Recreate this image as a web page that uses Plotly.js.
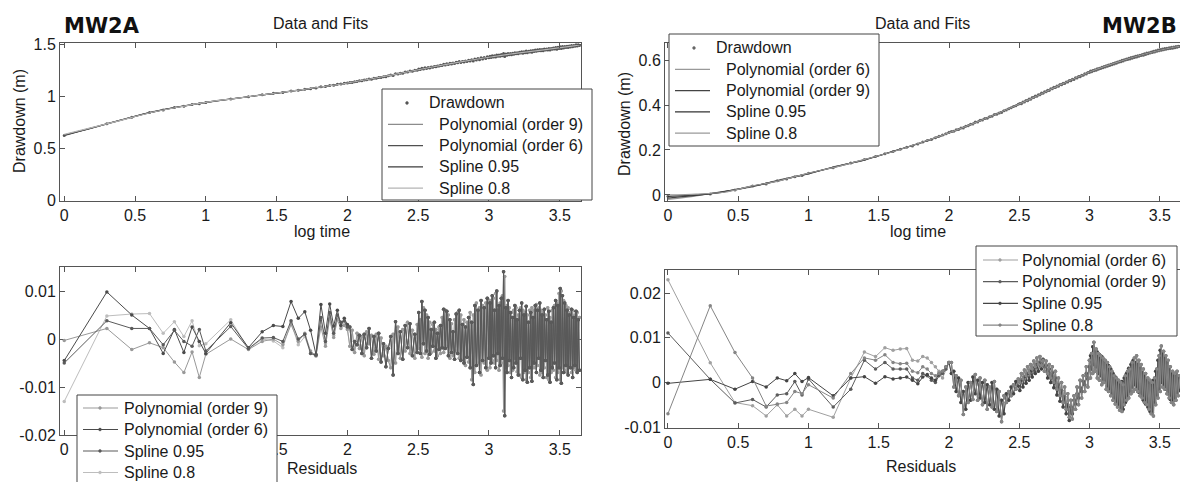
<!DOCTYPE html>
<html>
<head>
<meta charset="utf-8">
<script src="https://cdn.plot.ly/plotly-3.0.1.min.js"></script>
<style>
html,body{margin:0;padding:0;background:#fff;overflow:hidden;}
#wrap{width:1180px;height:482px;overflow:hidden;position:relative;}
#chart{width:1200px;height:500px;}
</style>
</head>
<body>
<div id="wrap"><div id="chart"></div></div>
<script>
// ---------- data ----------
const xEarly = [0, 0.301, 0.477, 0.602, 0.699, 0.778, 0.845, 0.903, 0.954, 1.0, 1.176, 1.301, 1.398, 1.477, 1.544, 1.602, 1.653, 1.699, 1.740, 1.778, 1.813, 1.845, 1.875, 1.903, 1.929, 1.954, 1.978, 2.0];
const xLate = [2.017, 2.034, 2.051, 2.068, 2.085, 2.102, 2.119, 2.136, 2.153, 2.170, 2.187, 2.204, 2.221, 2.238, 2.255, 2.272, 2.289, 2.306, 2.323, 2.340, 2.357, 2.374, 2.391, 2.408, 2.425, 2.442, 2.459, 2.476, 2.493,
 2.504, 2.515, 2.526, 2.537, 2.548, 2.559, 2.570, 2.581, 2.592, 2.603, 2.614, 2.625, 2.636, 2.647, 2.658, 2.669, 2.680, 2.691, 2.702, 2.713, 2.724, 2.735, 2.746, 2.757, 2.768, 2.779, 2.790, 2.801, 2.812, 2.823, 2.834, 2.845, 2.856, 2.867, 2.878, 2.889, 2.900, 2.911, 2.922, 2.933, 2.944, 2.955, 2.966, 2.977, 2.988, 2.999,
 3.007, 3.015, 3.023, 3.031, 3.039, 3.047, 3.055, 3.063, 3.071, 3.079, 3.087, 3.095, 3.103, 3.111, 3.119, 3.127, 3.135, 3.143, 3.151, 3.159, 3.167, 3.175, 3.183, 3.191, 3.199, 3.207, 3.215, 3.223, 3.231, 3.239, 3.247, 3.255, 3.263, 3.271, 3.279, 3.287, 3.295, 3.303, 3.311, 3.319, 3.327, 3.335, 3.343, 3.351, 3.359, 3.367, 3.375, 3.383, 3.391, 3.399, 3.407, 3.415, 3.423, 3.431, 3.439, 3.447, 3.455, 3.463, 3.471, 3.479, 3.487, 3.495, 3.503, 3.511, 3.519, 3.527, 3.535, 3.543, 3.551, 3.559, 3.567, 3.575, 3.583, 3.591, 3.599, 3.607, 3.615, 3.623, 3.631, 3.639];

// MW2A drawdown (m)
const drawA_early = [0.624, 0.737, 0.801, 0.846, 0.870, 0.894, 0.906, 0.923, 0.931, 0.942, 0.977, 0.997, 1.016, 1.031, 1.040, 1.053, 1.061, 1.070, 1.076, 1.082, 1.093, 1.096, 1.106, 1.109, 1.117, 1.121, 1.127, 1.131];
const drawA_late = [1.136, 1.136, 1.142, 1.145, 1.151, 1.151, 1.160, 1.161, 1.169, 1.167, 1.176, 1.177, 1.184, 1.182, 1.191, 1.190, 1.199, 1.206, 1.202, 1.218, 1.216, 1.225, 1.224, 1.236, 1.235, 1.245, 1.243, 1.252, 1.253,
 1.264, 1.259, 1.273, 1.266, 1.276, 1.270, 1.280, 1.275, 1.283, 1.282, 1.290, 1.286, 1.293, 1.293, 1.301, 1.299, 1.310, 1.304, 1.315, 1.308, 1.319, 1.314, 1.322, 1.318, 1.330, 1.324, 1.336, 1.328, 1.337, 1.332, 1.342, 1.338, 1.349, 1.341, 1.353, 1.342, 1.361, 1.351, 1.365, 1.354, 1.372, 1.362, 1.375, 1.365, 1.382, 1.372,
 1.387, 1.376, 1.392, 1.381, 1.392, 1.381, 1.399, 1.388, 1.399, 1.388, 1.404, 1.393, 1.413, 1.384, 1.409, 1.396, 1.413, 1.402, 1.414, 1.402, 1.416, 1.407, 1.422, 1.411, 1.422, 1.412, 1.427, 1.419, 1.432, 1.417, 1.432, 1.422, 1.437, 1.422, 1.436, 1.428, 1.441, 1.427, 1.442, 1.434, 1.447, 1.435, 1.449, 1.440, 1.453, 1.440, 1.453, 1.441, 1.457, 1.447, 1.457, 1.447, 1.462, 1.448, 1.461, 1.454, 1.467, 1.457, 1.471, 1.456, 1.473, 1.461, 1.479, 1.461, 1.481, 1.466, 1.482, 1.471, 1.484, 1.472, 1.486, 1.477, 1.491, 1.478, 1.492, 1.484, 1.497, 1.486, 1.498, 1.490];

// MW2B drawdown (m)
const drawB_early = [-0.006, 0.004, 0.022, 0.040, 0.049, 0.063, 0.071, 0.081, 0.087, 0.097, 0.121, 0.142, 0.158, 0.171, 0.183, 0.193, 0.203, 0.212, 0.218, 0.227, 0.235, 0.242, 0.247, 0.254, 0.261, 0.267, 0.272, 0.279];
const drawB_late = [0.282, 0.283, 0.290, 0.291, 0.298, 0.298, 0.306, 0.308, 0.315, 0.316, 0.324, 0.325, 0.332, 0.333, 0.340, 0.341, 0.348, 0.350, 0.358, 0.359, 0.365, 0.367, 0.374, 0.378, 0.384, 0.388, 0.394, 0.397, 0.403,
 0.407, 0.406, 0.414, 0.413, 0.420, 0.419, 0.427, 0.426, 0.433, 0.433, 0.440, 0.439, 0.446, 0.446, 0.453, 0.452, 0.459, 0.459, 0.466, 0.465, 0.472, 0.472, 0.479, 0.478, 0.485, 0.484, 0.491, 0.490, 0.497, 0.496, 0.503, 0.502, 0.509, 0.508, 0.515, 0.514, 0.521, 0.520, 0.527, 0.526, 0.533, 0.532, 0.539, 0.538, 0.545, 0.545,
 0.551, 0.548, 0.554, 0.553, 0.557, 0.555, 0.561, 0.559, 0.564, 0.562, 0.568, 0.566, 0.571, 0.569, 0.575, 0.572, 0.578, 0.576, 0.582, 0.579, 0.585, 0.583, 0.588, 0.586, 0.592, 0.590, 0.595, 0.593, 0.599, 0.596, 0.602, 0.600, 0.605, 0.603, 0.608, 0.605, 0.611, 0.608, 0.614, 0.611, 0.617, 0.614, 0.619, 0.617, 0.622, 0.620, 0.625, 0.622, 0.628, 0.625, 0.631, 0.628, 0.633, 0.631, 0.636, 0.634, 0.639, 0.636, 0.642, 0.639, 0.645, 0.642, 0.647, 0.644, 0.649, 0.646, 0.651, 0.648, 0.653, 0.650, 0.655, 0.652, 0.657, 0.653, 0.658, 0.655, 0.660, 0.657, 0.662, 0.660];

// fitted curves
const xFit = [0, 0.2, 0.4, 0.6, 0.8, 1.0, 1.2, 1.4, 1.6, 1.8, 2.0, 2.2, 2.4, 2.6, 2.8, 3.0, 3.2, 3.4, 3.6, 3.64];
const fitA_poly9 = [0.624, 0.701, 0.772, 0.845, 0.897, 0.944, 0.980, 1.016, 1.051, 1.089, 1.130, 1.178, 1.231, 1.284, 1.334, 1.378, 1.418, 1.452, 1.487, 1.496];
const fitA_poly6 = [0.629, 0.698, 0.774, 0.843, 0.899, 0.942, 0.981, 1.015, 1.052, 1.088, 1.131, 1.177, 1.232, 1.283, 1.335, 1.377, 1.419, 1.451, 1.488, 1.497];
const fitA_spl95 = [0.629, 0.700, 0.773, 0.844, 0.898, 0.943, 0.980, 1.016, 1.051, 1.089, 1.130, 1.178, 1.231, 1.284, 1.334, 1.378, 1.418, 1.452, 1.488, 1.496];
const fitA_spl80 = [0.636, 0.703, 0.771, 0.842, 0.897, 0.944, 0.980, 1.016, 1.052, 1.089, 1.130, 1.178, 1.231, 1.284, 1.334, 1.378, 1.418, 1.452, 1.488, 1.496];
const fitB_poly6 = [-0.020, -0.004, 0.016, 0.036, 0.068, 0.094, 0.128, 0.155, 0.194, 0.231, 0.277, 0.324, 0.378, 0.432, 0.493, 0.546, 0.592, 0.627, 0.658, 0.660];
const fitB_poly9 = [-0.014, -0.002, 0.015, 0.038, 0.066, 0.095, 0.127, 0.156, 0.193, 0.232, 0.276, 0.325, 0.377, 0.433, 0.492, 0.547, 0.591, 0.628, 0.657, 0.661];
const fitB_spl95 = [-0.006, 0.000, 0.014, 0.039, 0.065, 0.096, 0.126, 0.157, 0.193, 0.232, 0.276, 0.325, 0.377, 0.433, 0.492, 0.547, 0.591, 0.628, 0.657, 0.661];
const fitB_spl80 = [0.000, 0.004, 0.012, 0.040, 0.064, 0.097, 0.125, 0.158, 0.192, 0.233, 0.276, 0.325, 0.377, 0.433, 0.492, 0.547, 0.591, 0.628, 0.657, 0.661];

// residuals, MW2A (early, sparse part: one array per fit)
const resA_poly9 = [-0.0003, 0.0022, -0.0022, -0.0008, -0.0018, -0.0048, -0.0070, -0.0027, -0.0080, -0.0032, 0.0000, -0.0022, -0.0005, 0.0000, -0.0012, 0.0030, -0.0005, 0.0012, -0.0025, -0.0035, 0.0025, -0.0015, 0.0042, 0.0003, 0.0040, 0.0022, 0.0028, 0.0020];
const resA_poly6 = [-0.0045, 0.0098, 0.0050, 0.0022, -0.0030, 0.0020, -0.0028, 0.0025, -0.0005, -0.0030, 0.0034, -0.0018, 0.0015, 0.0028, 0.0026, 0.0078, 0.0043, 0.0057, 0.0018, -0.0032, 0.0072, 0.0012, 0.0073, 0.0027, 0.0060, 0.0028, 0.0043, 0.0030];
const resA_spl95 = [-0.0050, 0.0038, 0.0022, 0.0022, -0.0012, 0.0018, -0.0005, -0.0015, 0.0020, -0.0025, 0.0026, -0.0020, 0.0002, 0.0003, -0.0005, 0.0038, 0.0000, 0.0010, -0.0030, -0.0034, 0.0045, -0.0005, 0.0055, 0.0012, 0.0050, 0.0035, 0.0038, 0.0025];
const resA_spl80 = [-0.0130, 0.0048, 0.0052, 0.0053, 0.0012, 0.0036, 0.0005, 0.0038, -0.0014, -0.0010, 0.0040, -0.0021, 0.0000, -0.0004, -0.0018, 0.0035, -0.0012, 0.0005, -0.0030, -0.0036, 0.0040, -0.0010, 0.0050, 0.0008, 0.0045, 0.0030, 0.0035, 0.0022];
// dense part (fits coincide): two readings of the band
const resA_late = [0.0025, -0.0022, -0.0005, -0.0012, 0.0008, -0.0030, 0.0010, -0.0018, 0.0022, -0.0040, 0.0005, -0.0025, 0.0012, -0.0048, -0.0010, -0.0058, -0.0020, 0.0005, -0.0075, 0.0036, -0.0030, 0.0015, -0.0042, 0.0028, -0.0018, 0.0032, -0.0035, 0.0010, -0.0028,
 0.0055, -0.0030, 0.0078, -0.0010, 0.0060, -0.0025, 0.0045, -0.0032, 0.0020, -0.0015, 0.0035, -0.0040, 0.0012, -0.0022, 0.0028, -0.0018, 0.0062, -0.0020, 0.0058, -0.0035, 0.0040, -0.0028, 0.0015, -0.0042, 0.0052, -0.0030, 0.0060, -0.0045, 0.0030, -0.0050, 0.0025, -0.0038, 0.0045, -0.0060, 0.0035, -0.0095, 0.0070, -0.0055, 0.0060, -0.0070, 0.0080, -0.0045, 0.0065, -0.0060, 0.0085, -0.0040,
 0.0075, -0.0050, 0.0090, -0.0035, 0.0060, -0.0060, 0.0100, -0.0030, 0.0070, -0.0055, 0.0085, -0.0040, 0.0140, -0.0160, 0.0065, -0.0070, 0.0080, -0.0045, 0.0055, -0.0080, 0.0045, -0.0060, 0.0070, -0.0050, 0.0040, -0.0075, 0.0060, -0.0040, 0.0075, -0.0085, 0.0050, -0.0065, 0.0068, -0.0090, 0.0035, -0.0060, 0.0055, -0.0088, 0.0045, -0.0050, 0.0070, -0.0070, 0.0060, -0.0040, 0.0075, -0.0065, 0.0050, -0.0080, 0.0062, -0.0045, 0.0040, -0.0075, 0.0058, -0.0090, 0.0035, -0.0060, 0.0065, -0.0050, 0.0080, -0.0085, 0.0070, -0.0060, 0.0105, -0.0092, 0.0090, -0.0070, 0.0075, -0.0055, 0.0060, -0.0075, 0.0050, -0.0060, 0.0062, -0.0080, 0.0045, -0.0055, 0.0058, -0.0070, 0.0040, -0.0065];
const resA_late2 = [-0.0015, 0.0018, -0.0028, 0.0012, -0.0020, 0.0005, -0.0035, 0.0015, -0.0010, 0.0008, -0.0032, 0.0010, -0.0042, 0.0002, -0.0035, -0.0015, -0.0045, -0.0060, 0.0010, -0.0050, 0.0025, -0.0040, 0.0020, -0.0025, 0.0035, -0.0030, 0.0018, -0.0040, 0.0030,
 -0.0020, 0.0040, -0.0038, 0.0065, -0.0030, 0.0050, -0.0040, 0.0035, -0.0028, 0.0030, -0.0025, 0.0020, -0.0035, 0.0025, -0.0030, 0.0045, -0.0028, 0.0060, -0.0015, 0.0050, -0.0040, 0.0032, -0.0035, 0.0040, -0.0025, 0.0055, -0.0040, 0.0050, -0.0042, 0.0040, -0.0055, 0.0035, -0.0048, 0.0055, -0.0085, 0.0050, -0.0070, 0.0075, -0.0050, 0.0065, -0.0075, 0.0070, -0.0050, 0.0075, -0.0065, 0.0080,
 -0.0060, 0.0080, -0.0045, 0.0085, -0.0050, 0.0095, -0.0045, 0.0060, -0.0065, 0.0075, -0.0050, 0.0090, -0.0150, 0.0130, -0.0060, 0.0070, -0.0055, 0.0065, -0.0070, 0.0055, -0.0065, 0.0060, -0.0040, 0.0065, -0.0068, 0.0050, -0.0075, 0.0065, -0.0080, 0.0060, -0.0070, 0.0055, -0.0085, 0.0050, -0.0070, 0.0060, -0.0080, 0.0065, -0.0060, 0.0060, -0.0060, 0.0072, -0.0055, 0.0065, -0.0075, 0.0060, -0.0070, 0.0055, -0.0060, 0.0050, -0.0080, 0.0065, -0.0085, 0.0045, -0.0070, 0.0060, -0.0065, 0.0070, -0.0080, 0.0075, -0.0070, 0.0095, -0.0085, 0.0100, -0.0060, 0.0080, -0.0065, 0.0070, -0.0070, 0.0065, -0.0055, 0.0055, -0.0070, 0.0060, -0.0060, 0.0050, -0.0065, 0.0055, -0.0060, 0.0045];

// residuals, MW2B
const resB_poly6 = [0.0230, 0.0044, -0.0045, -0.0052, -0.0075, -0.0050, -0.0075, -0.0060, -0.0075, -0.0060, -0.0078, 0.0010, 0.0068, 0.0058, 0.0078, 0.0072, 0.0075, 0.0076, 0.0050, 0.0048, 0.0058, 0.0055, 0.0045, 0.0035, 0.0025, 0.0010, 0.0030, 0.0045];
const resB_poly9 = [0.0111, 0.0007, -0.0046, -0.0038, -0.0055, -0.0028, -0.0025, 0.0002, -0.0028, 0.0008, -0.0055, -0.0015, 0.0050, 0.0030, 0.0045, 0.0030, 0.0030, 0.0030, 0.0010, 0.0005, 0.0020, 0.0015, 0.0005, 0.0000, 0.0015, 0.0020, 0.0030, 0.0045];
const resB_spl95 = [-0.0002, 0.0007, -0.0015, 0.0002, -0.0010, 0.0010, 0.0004, 0.0020, 0.0002, 0.0011, -0.0030, 0.0010, 0.0013, -0.0002, 0.0013, 0.0008, 0.0010, 0.0012, 0.0005, -0.0003, 0.0012, 0.0018, 0.0010, 0.0005, 0.0020, 0.0025, 0.0035, 0.0045];
const resB_spl80 = [-0.0070, 0.0172, 0.0067, 0.0010, -0.0053, -0.0048, -0.0045, -0.0020, -0.0025, -0.0005, -0.0035, 0.0020, 0.0055, 0.0050, 0.0062, 0.0045, 0.0042, 0.0043, 0.0025, 0.0022, 0.0035, 0.0030, 0.0020, 0.0015, 0.0020, 0.0025, 0.0035, 0.0045];
const resB_late = [0.0045, -0.0010, 0.0015, -0.0030, 0.0005, -0.0072, -0.0010, -0.0045, 0.0000, -0.0038, 0.0018, -0.0040, 0.0010, -0.0050, 0.0005, -0.0060, -0.0010, -0.0055, 0.0002, -0.0065, -0.0020, -0.0088, -0.0030, -0.0045, -0.0020, -0.0030, -0.0005, -0.0015, 0.0008,
 0.0000, 0.0020, 0.0008, 0.0028, 0.0015, 0.0035, 0.0022, 0.0040, 0.0030, 0.0048, 0.0035, 0.0055, 0.0040, 0.0058, 0.0038, 0.0050, 0.0025, 0.0048, 0.0020, 0.0040, 0.0010, 0.0035, 0.0000, 0.0025, -0.0015, 0.0010, -0.0030, 0.0000, -0.0045, -0.0010, -0.0060, -0.0025, -0.0078, -0.0040, -0.0082, -0.0030, -0.0060, -0.0010, -0.0050, 0.0005, -0.0035, 0.0015, -0.0020, 0.0035, -0.0010, 0.0050,
 0.0010, 0.0065, 0.0020, 0.0090, 0.0025, 0.0075, 0.0010, 0.0065, 0.0005, 0.0060, -0.0005, 0.0055, 0.0000, 0.0050, -0.0015, 0.0045, -0.0020, 0.0035, -0.0030, 0.0025, -0.0040, 0.0015, -0.0048, 0.0010, -0.0055, 0.0005, -0.0062, 0.0000, -0.0065, -0.0005, -0.0050, 0.0015, -0.0040, 0.0025, -0.0035, 0.0030, -0.0025, 0.0045, -0.0020, 0.0055, -0.0015, 0.0060, -0.0020, 0.0050, -0.0030, 0.0040, -0.0035, 0.0030, -0.0045, 0.0020, -0.0050, 0.0010, -0.0060, 0.0005, -0.0070, 0.0000, -0.0075, 0.0010, -0.0050, 0.0030, -0.0035, 0.0060, -0.0020, 0.0082, -0.0010, 0.0070, -0.0015, 0.0060, -0.0025, 0.0050, -0.0035, 0.0035, -0.0045, 0.0025, -0.0050, 0.0020, -0.0040, 0.0025, -0.0030, 0.0015];
const resB_late2 = [0.0020, 0.0025, -0.0020, 0.0010, -0.0045, -0.0020, -0.0060, 0.0000, -0.0040, 0.0012, -0.0025, 0.0005, -0.0035, 0.0000, -0.0045, -0.0005, -0.0050, 0.0000, -0.0060, -0.0015, -0.0075, -0.0040, -0.0070, -0.0025, -0.0040, -0.0010, -0.0025, 0.0002, -0.0008,
 -0.0018, 0.0005, -0.0010, 0.0012, -0.0002, 0.0020, 0.0005, 0.0025, 0.0012, 0.0032, 0.0020, 0.0040, 0.0025, 0.0045, 0.0030, 0.0052, 0.0035, 0.0038, 0.0010, 0.0030, 0.0000, 0.0022, -0.0012, 0.0010, -0.0028, -0.0005, -0.0042, -0.0018, -0.0055, -0.0032, -0.0070, -0.0050, -0.0085, -0.0055, -0.0070, -0.0040, -0.0048, -0.0025, -0.0035, -0.0012, -0.0020, 0.0002, -0.0005, 0.0020, 0.0008, 0.0035,
 0.0060, 0.0030, 0.0080, 0.0040, 0.0070, 0.0035, 0.0068, 0.0020, 0.0062, 0.0015, 0.0058, 0.0008, 0.0050, 0.0002, 0.0045, -0.0008, 0.0038, -0.0015, 0.0030, -0.0025, 0.0020, -0.0035, 0.0012, -0.0045, 0.0005, -0.0052, 0.0000, -0.0058, 0.0002, -0.0060, 0.0010, -0.0045, 0.0020, -0.0032, 0.0032, -0.0020, 0.0040, -0.0010, 0.0050, -0.0005, 0.0045, -0.0012, 0.0040, -0.0022, 0.0032, -0.0030, 0.0022, -0.0040, 0.0015, -0.0048, 0.0005, -0.0055, 0.0000, -0.0065, -0.0005, -0.0068, 0.0005, -0.0045, 0.0025, -0.0028, 0.0050, -0.0015, 0.0072, 0.0000, 0.0065, -0.0005, 0.0055, -0.0015, 0.0045, -0.0025, 0.0030, -0.0038, 0.0020, -0.0042, 0.0015, -0.0035, 0.0020, -0.0022, 0.0012, -0.0018];

// tick values / labels
const xTickVals = [0, 0.5, 1, 1.5, 2, 2.5, 3, 3.5];
const xTickText = ['0', '0.5', '1', '1.5', '2', '2.5', '3', '3.5'];
const xTickTextResA = ['0', '', '', '1.5', '2', '2.5', '3', '3.5']; // 0.5 and 1 sit under the legend box
const yTickValsA = [0, 0.5, 1, 1.5];
const yTickTextA = ['0', '0.5', '1', '1.5'];
const yTickValsB = [0, 0.2, 0.4, 0.6];
const yTickTextB = ['0', '0.2', '0.4', '0.6'];
const rTickValsA = [-0.02, -0.01, 0, 0.01];
const rTickTextA = ['-0.02', '-0.01', '0', '0.01'];
const rTickValsB = [-0.01, 0, 0.01, 0.02];
const rTickTextB = ['-0.01', '0', '0.01', '0.02'];

// legend entries (names in the order each legend lists them)
const legendTopA = ['Drawdown', 'Polynomial (order 9)', 'Polynomial (order 6)', 'Spline 0.95', 'Spline 0.8'];
const legendTopB = ['Drawdown', 'Polynomial (order 6)', 'Polynomial (order 9)', 'Spline 0.95', 'Spline 0.8'];
const legendResA = ['Polynomial (order 9)', 'Polynomial (order 6)', 'Spline 0.95', 'Spline 0.8'];
const legendResB = ['Polynomial (order 6)', 'Polynomial (order 9)', 'Spline 0.95', 'Spline 0.8'];

// ---------- figure ----------
const W = 1200, H = 500;
const FONT = 'Liberation Sans, Arial, Helvetica, sans-serif';
const px = v => v / W;
const py = v => 1 - v / H;

const colTopA = ['#555555', '#8c8c8c', '#505050', '#3c3c3c', '#b4b4b4'];
const colTopB = ['#666666', '#999999', '#444444', '#333333', '#9a9a9a'];
const colResA = ['#999999', '#4a4a4a', '#5a5a5a', '#bdbdbd'];
const colResB = ['#a0a0a0', '#5c5c5c', '#444444', '#858585'];

const xAll = xEarly.concat(xLate);
const traces = [];

function fitTrace(name, y, color, xa, ya) {
  return {x: xFit, y: y, name: name, type: 'scatter', mode: 'lines',
    line: {color: color, width: 1.2, shape: 'spline', smoothing: 0.8},
    xaxis: xa, yaxis: ya};
}
function resTrace(name, early, late, color, xa, ya, z) {
  return {x: xAll, y: early.concat(late), name: name, type: 'scatter', mode: 'lines+markers',
    line: {color: color, width: 1}, marker: {color: color, size: 3.5},
    xaxis: xa, yaxis: ya, zorder: z};
}

// MW2A top
traces.push({x: xAll, y: drawA_early.concat(drawA_late), name: legendTopA[0], type: 'scatter', mode: 'markers',
  marker: {color: colTopA[0], size: 3}, xaxis: 'x', yaxis: 'y'});
traces.push(fitTrace(legendTopA[1], fitA_poly9, colTopA[1], 'x', 'y'));
traces.push(fitTrace(legendTopA[2], fitA_poly6, colTopA[2], 'x', 'y'));
traces.push(fitTrace(legendTopA[3], fitA_spl95, colTopA[3], 'x', 'y'));
traces.push(fitTrace(legendTopA[4], fitA_spl80, colTopA[4], 'x', 'y'));

// MW2B top
traces.push({x: xAll, y: drawB_early.concat(drawB_late), name: legendTopB[0], type: 'scatter', mode: 'markers',
  marker: {color: colTopB[0], size: 3}, xaxis: 'x2', yaxis: 'y2'});
traces.push(fitTrace(legendTopB[1], fitB_poly6, colTopB[1], 'x2', 'y2'));
traces.push(fitTrace(legendTopB[2], fitB_poly9, colTopB[2], 'x2', 'y2'));
traces.push(fitTrace(legendTopB[3], fitB_spl95, colTopB[3], 'x2', 'y2'));
traces.push(fitTrace(legendTopB[4], fitB_spl80, colTopB[4], 'x2', 'y2'));

// MW2A residuals
traces.push(resTrace(legendResA[0], resA_poly9, resA_late2, colResA[0], 'x3', 'y3', 1));
traces.push(resTrace(legendResA[1], resA_poly6, resA_late, colResA[1], 'x3', 'y3', 2));
traces.push(resTrace(legendResA[2], resA_spl95, resA_late, colResA[2], 'x3', 'y3', 3));
traces.push(resTrace(legendResA[3], resA_spl80, resA_late2, colResA[3], 'x3', 'y3', 0));

// MW2B residuals
traces.push(resTrace(legendResB[0], resB_poly6, resB_late2, colResB[0], 'x4', 'y4', 0));
traces.push(resTrace(legendResB[1], resB_poly9, resB_late, colResB[1], 'x4', 'y4', 1));
traces.push(resTrace(legendResB[2], resB_spl95, resB_late2, colResB[2], 'x4', 'y4', 2));
traces.push(resTrace(legendResB[3], resB_spl80, resB_late, colResB[3], 'x4', 'y4', 3));

const axBase = {showgrid: false, zeroline: false, showline: true, linecolor: '#555', linewidth: 1,
  mirror: 'allticks', ticks: 'inside', ticklen: 5, tickwidth: 1, tickcolor: '#555',
  tickfont: {family: FONT, size: 16, color: '#1a1a1a'}, fixedrange: true, automargin: false};
function ax(extra) { return Object.assign({}, axBase, extra); }

function ann(text, x, y, opts) {
  return Object.assign({text: text, x: px(x), y: py(y), xref: 'paper', yref: 'paper',
    showarrow: false, xanchor: 'center', yanchor: 'middle',
    font: {family: FONT, size: 16, color: '#1a1a1a'}}, opts || {});
}

// MATLAB-style legend boxes (box, sample line / dot, label)
const shapes = [];
const annotations = [];
function legendBox(names, colors, box, opt) {
  shapes.push({type: 'rect', xref: 'paper', yref: 'paper', layer: 'above',
    x0: px(box[0]), x1: px(box[2]), y0: py(box[3]), y1: py(box[1]),
    fillcolor: '#ffffff', line: {color: '#444', width: 1}});
  names.forEach((nm, i) => {
    const y = box[1] + opt.first + i * opt.step;
    const isDots = opt.dotsOnly && i === 0;
    if (!isDots) {
      shapes.push({type: 'line', xref: 'paper', yref: 'paper', layer: 'above',
        x0: px(box[0] + opt.l0), x1: px(box[0] + opt.l1), y0: py(y), y1: py(y),
        line: {color: colors[i], width: 1.2}});
    }
    if (isDots || opt.markers) {
      const cx = box[0] + opt.dot, r = 1.4;
      shapes.push({type: 'circle', xref: 'paper', yref: 'paper', layer: 'above',
        x0: px(cx - r), x1: px(cx + r), y0: py(y + r), y1: py(y - r),
        fillcolor: colors[i], line: {color: colors[i], width: 0.5}});
    }
    annotations.push(ann(nm, box[0] + (isDots ? opt.tDot : opt.t), y, {xanchor: 'left'}));
  });
}
legendBox(legendTopA, colTopA, [382, 89, 592, 200], {first: 14, step: 21.3, l0: 6, l1: 41, dot: 25, t: 55, tDot: 45, dotsOnly: true});
legendBox(legendTopB, colTopB, [669, 34, 879, 146], {first: 14, step: 21.3, l0: 6, l1: 41, dot: 25, t: 55, tDot: 45, dotsOnly: true});
legendBox(legendResA, colResA, [77, 395, 277, 505], {first: 13, step: 21.5, l0: 6, l1: 41, dot: 23, t: 45, markers: true});
legendBox(legendResB, colResB, [976, 246, 1177, 336], {first: 14, step: 21.7, l0: 7, l1: 42, dot: 24, t: 44, markers: true});

annotations.push(
  ann('Data and Fits', 320, 23),
  ann('Data and Fits', 922, 23),
  ann('<b>MW2A</b>', 62, 26, {xanchor: 'left', font: {family: 'DejaVu Sans, sans-serif', size: 21, color: '#111'}}),
  ann('<b>MW2B</b>', 1179, 26, {xanchor: 'right', font: {family: 'DejaVu Sans, sans-serif', size: 21, color: '#111'}}),
  ann('Drawdown (m)', 19, 121, {textangle: -90}),
  ann('Drawdown (m)', 624, 124, {textangle: -90}),
  ann('log time', 322, 232),
  ann('log time', 918, 232),
  ann('Residuals', 322, 468),
  ann('Residuals', 921, 466)
);

const layout = {
  width: W, height: H, margin: {l: 0, r: 0, t: 0, b: 0}, paper_bgcolor: '#fff', plot_bgcolor: '#fff',
  showlegend: false,
  xaxis: ax({domain: [px(60), px(581)], range: [-0.030, 3.650], anchor: 'y', tickvals: xTickVals, ticktext: xTickText}),
  yaxis: ax({domain: [py(201), py(43)], range: [-0.005, 1.515], anchor: 'x', tickvals: yTickValsA, ticktext: yTickTextA}),
  xaxis2: ax({domain: [px(665), px(1190)], range: [-0.021, 3.715], anchor: 'y2', tickvals: xTickVals, ticktext: xTickText}),
  yaxis2: ax({domain: [py(201), py(43)], range: [-0.027, 0.676], anchor: 'x2', tickvals: yTickValsB, ticktext: yTickTextB}),
  xaxis3: ax({domain: [px(60), px(581)], range: [-0.030, 3.650], anchor: 'y3', tickvals: xTickVals, ticktext: xTickTextResA}),
  yaxis3: ax({domain: [py(435), py(267)], range: [-0.0200, 0.0150], anchor: 'x3', tickvals: rTickValsA, ticktext: rTickTextA}),
  xaxis4: ax({domain: [px(665), px(1190)], range: [-0.021, 3.715], anchor: 'y4', tickvals: xTickVals, ticktext: xTickText}),
  yaxis4: ax({domain: [py(428), py(270)], range: [-0.0102, 0.0252], anchor: 'x4', tickvals: rTickValsB, ticktext: rTickTextB}),
  shapes: shapes,
  annotations: annotations
};

Plotly.newPlot('chart', traces, layout, {staticPlot: true, displayModeBar: false});
</script>
</body>
</html>
